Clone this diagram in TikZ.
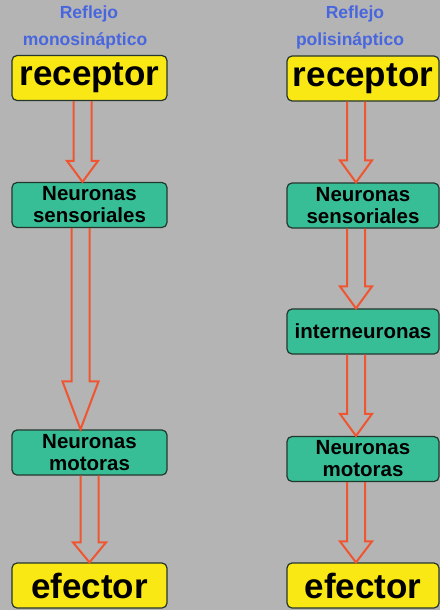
\documentclass[tikz,border=0pt]{standalone}
\usepackage{fontspec}
\setmainfont{Liberation Sans}
\usetikzlibrary{calc}

\definecolor{bggray}{RGB}{180,180,180}
\definecolor{boxyellow}{RGB}{250,232,20}
\definecolor{boxgreen}{RGB}{56,190,150}
\definecolor{boxline}{RGB}{35,55,45}
\definecolor{arrowred}{RGB}{240,85,50}
\definecolor{titleblue}{RGB}{72,102,222}

\tikzset{every picture/.style={line width=0.75pt}}
\tikzset{
  yellowbox/.style={draw=boxline, line width=1.2pt, fill=boxyellow, rounded corners=5pt,
    minimum width=155pt, minimum height=45pt, inner sep=0pt, font=\fontsize{35}{37}\selectfont\bfseries},
  greenbox/.style={draw=boxline, line width=1.2pt, fill=boxgreen, rounded corners=5pt,
    minimum width=155pt, minimum height=45pt, inner sep=0pt, align=center, font=\fontsize{20.5}{22}\selectfont\bfseries},
  titletext/.style={text=titleblue, font=\fontsize{17.5}{19}\selectfont\bfseries},
  hollow/.style={draw=arrowred, line width=2pt, line join=miter}
}

% from, to, x shift, head length, head half width
\newcommand{\blockarrow}[5]{%
  \draw [hollow] ($(#1.south)+(#3-9,0)$) -- ($(#2.north)+(#3-9,-#4)$) -- ($(#2.north)+(#3-#5,-#4)$)
    -- ($(#2.north)+(#3,0)$) -- ($(#2.north)+(#3+#5,-#4)$) -- ($(#2.north)+(#3+9,-#4)$) -- ($(#1.south)+(#3+9,0)$) ;
}

\begin{document}
\begin{tikzpicture}[x=1pt,y=1pt,yscale=-1,xscale=1]
%background, 440 x 610
\path [fill=bggray] (0,0) rectangle (440,610) ;
\useasboundingbox (0,0) rectangle (440,610) ;

% Titles
\node (tit1a) at (89,14) [titletext] {Reflejo};
\node (tit1b) at (85,41) [titletext] {monosináptico};
\node (tit2a) at (355,14) [titletext] {Reflejo};
\node (tit2b) at (350,41) [titletext] {polisináptico};

% Left column
\node (rec1) at (89.5,78) [yellowbox] {receptor};
\node (sen1) at (89.5,205) [greenbox] {Neuronas\\sensoriales};
\node (mot1) at (89.5,452.5) [greenbox] {Neuronas\\motoras};
\node (efe1) at (89.5,585.5) [yellowbox] {efector};

% Right column
\node (rec2) at (363,78.5) [yellowbox, minimum width=152pt] {receptor};
\node (sen2) at (363,205.5) [greenbox, minimum width=152pt] {Neuronas\\sensoriales};
\node (int2) at (363,331.5) [greenbox, minimum width=152pt] {interneuronas};
\node (mot2) at (363,459) [greenbox, minimum width=152pt] {Neuronas\\motoras};
\node (efe2) at (363,585.5) [yellowbox, minimum width=152pt] {efector};

%Block Arrows
\blockarrow{rec1}{sen1}{-7}{21}{15.5}
\blockarrow{sen1}{mot1}{-9}{48}{18}
\blockarrow{mot1}{efe1}{0}{20}{16.5}

\blockarrow{rec2}{sen2}{-7}{22}{16}
\blockarrow{sen2}{int2}{-7}{22}{16}
\blockarrow{int2}{mot2}{-7}{22}{16}
\blockarrow{mot2}{efe2}{-7}{21}{16}

\end{tikzpicture}
\end{document}
